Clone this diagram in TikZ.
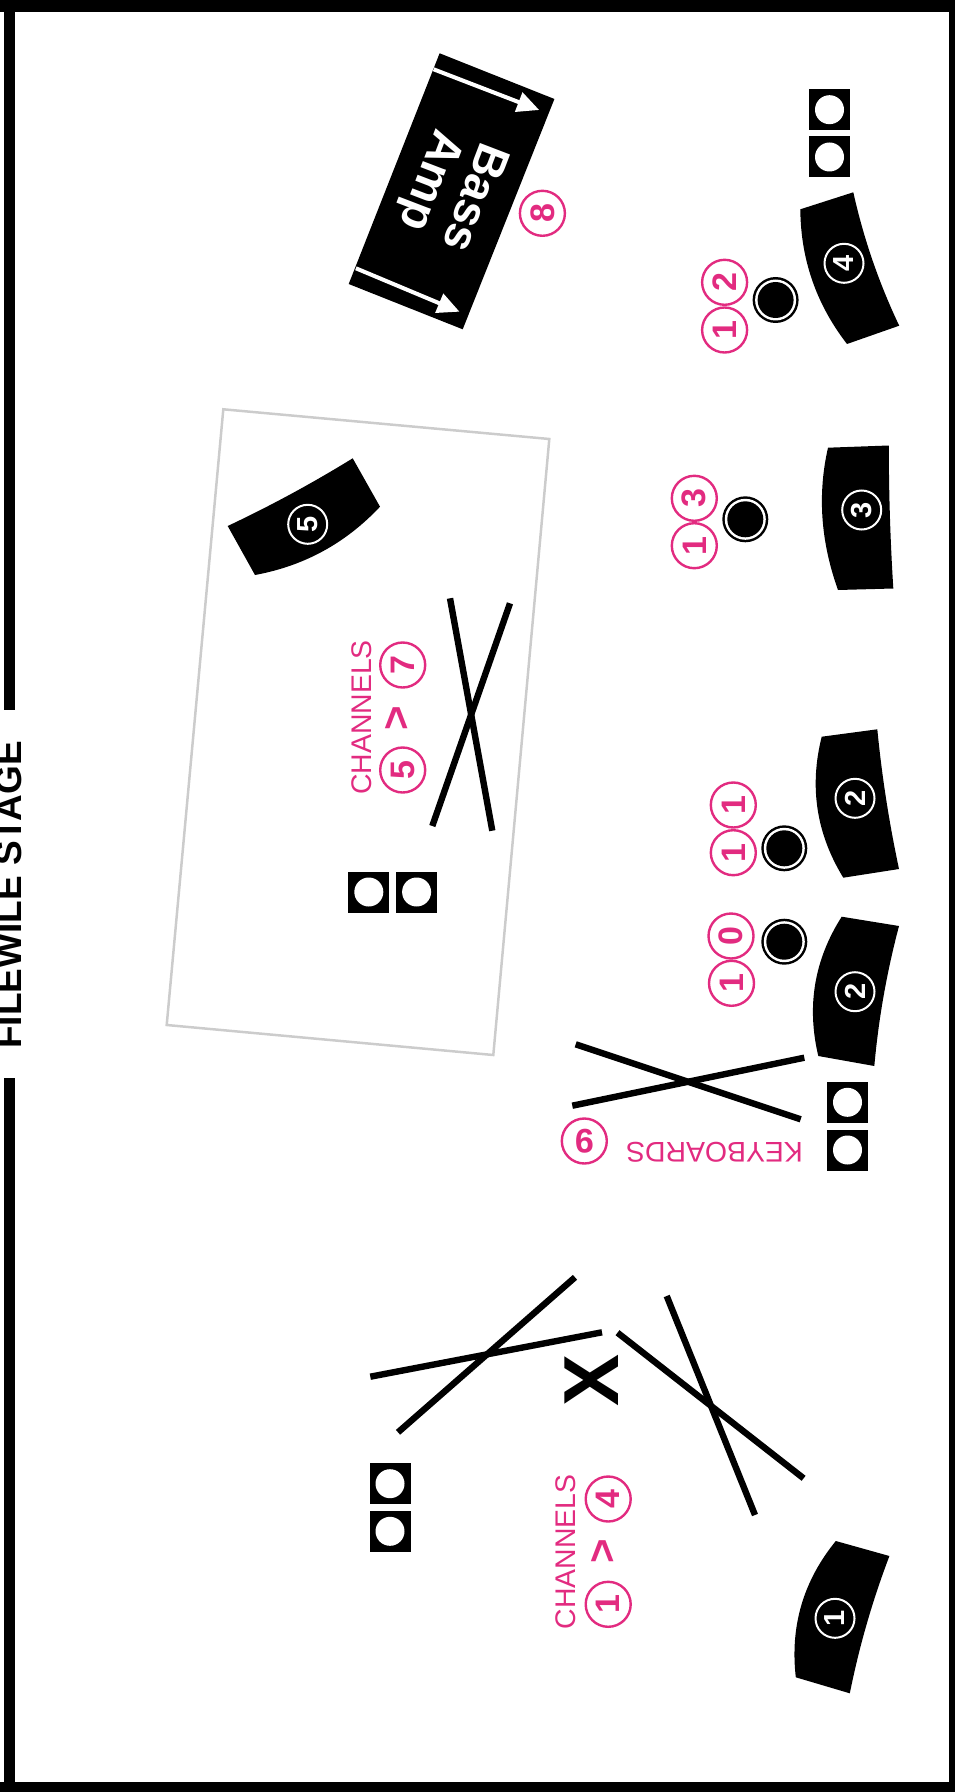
\documentclass[tikz,border=0pt]{standalone}
\usepackage{fontspec}
\setmainfont{Liberation Sans}
\usetikzlibrary{arrows.meta,calc}
\definecolor{pk}{HTML}{E22B80}
\definecolor{gr}{HTML}{CCCCCC}
\newcommand{\fs}[1]{\fontsize{#1}{#1}\selectfont}
\tikzset{
  pinkring/.style={circle,draw=pk,line width=1.2pt,minimum size=22.5pt,inner sep=0pt,text=pk,font=\fs{17}\bfseries},
  whitering/.style={circle,draw=white,line width=1pt,minimum size=19.5pt,inner sep=0pt,text=white,font=\fs{14.5}\bfseries},
  micouter/.style={circle,fill=black,minimum size=23pt,inner sep=0pt},
  micmid/.style={circle,fill=white,minimum size=20.5pt,inner sep=0pt},
  micin/.style={circle,fill=black,minimum size=18pt,inner sep=0pt},
  boxsq/.style={fill=black,minimum size=20.5pt,inner sep=0pt},
  boxhole/.style={circle,fill=white,minimum size=14.5pt,inner sep=0pt},
  cross/.style={line width=3.2pt,black},
  pinktext/.style={text=pk,font=\fs{14.2},inner sep=0pt},
  pinkarrow/.style={text=pk,font=\fs{21}\bfseries,inner sep=0pt},
  amptext/.style={text=white,font=\fs{23.5}\bfseries,inner sep=0pt,rotate=-111},
  amparrow/.style={white,line width=2pt,-{Triangle[length=11pt,width=10pt]}},
  frame/.style={fill=black},
}
\newcommand{\mic}[3]{%
  \node[micouter] (#1o) at (#2,#3) {};
  \node[micmid] (#1m) at (#1o) {};
  \node[micin] (#1i) at (#1o) {};}
\newcommand{\speaker}[3]{%
  \node[boxsq] (#1) at (#2,#3) {};
  \node[boxhole] (#1h) at (#1) {};}
% wedge: four corners, control of edge p2-p3, control of edge p4-p1
\newcommand{\wedgeshape}[6]{%
  \fill #1 -- #2 .. controls ($#2!0.667!#5$) and ($#3!0.667!#5$) .. #3
    -- #4 .. controls ($#4!0.667!#6$) and ($#1!0.667!#6$) .. #1 -- cycle;}
\begin{document}
\begin{tikzpicture}[x=0.5pt,y=-0.5pt]
\useasboundingbox (0,0) rectangle (955,1792);
\clip (0,0) rectangle (955,1792);
% frame
\fill[frame] (0,0) rectangle (955,12);
\fill[frame] (949,0) rectangle (955,1792);
\fill[frame] (0,1782) rectangle (955,1792);
\fill[frame] (4,0) rectangle (15,710);
\fill[frame] (4,1078) rectangle (15,1792);
\node[inner sep=0pt,rotate=90,font=\fs{18.5}\bfseries] (stage) at (9,895) {FILEWILE STAGE};
% grey riser
\draw[gr,line width=1.25pt] (223.3,409.3) -- (549.3,439) -- (493.3,1055) -- (166.7,1025) -- cycle;
% bass amp
\fill (439.6,53.3) -- (554.4,99) -- (462.7,329.3) -- (348.7,284) -- cycle;
\coordinate (a1s) at (433.6,69.3);
\coordinate (a1e) at (539.2,110);
\coordinate (a2s) at (355.9,268.3);
\coordinate (a2e) at (459.5,311.7);
\draw[amparrow] (a1s) -- (a1e);
\draw[amparrow] (a2s) -- (a2e);
\node[amptext] (bass) at (476.7,198.3) {Bass};
\node[amptext] (amp) at (428.8,180) {Amp};
\node[pinkring,rotate=90] (r8) at (542.4,213.3) {8};
% wedge 4
\wedgeshape{(800.3,209.3)}{(853.3,192.3)}{(899.2,325.7)}{(847,344)}{(868.7,261.5)}{(800.9,284.4)}
\node[whitering,rotate=90] (w4) at (844,263.3) {4};
\mic{m12}{775.6}{300}
\node[pinkring,rotate=90] (r12b) at (724.6,282.3) {2};
\node[pinkring,rotate=90] (r12a) at (724.6,330) {1};
\speaker{s1}{829.5}{109.7}
\speaker{s2}{829.5}{157}
% wedge 3
\wedgeshape{(828,447.7)}{(888.8,445.5)}{(893.3,588.5)}{(838,590)}{(888.8,517)}{(812,517.6)}
\node[whitering,rotate=90] (w3) at (861.7,510) {3};
\mic{m13}{745.3}{519.3}
\node[pinkring,rotate=90] (r13b) at (694.3,498.3) {3};
\node[pinkring,rotate=90] (r13a) at (694.3,545.7) {1};
% wedge 2 upper
\wedgeshape{(821.7,736.7)}{(877.3,729.3)}{(899,869)}{(843.3,877.7)}{(884.2,799.8)}{(802.8,811.7)}
\node[whitering,rotate=90] (w2a) at (855,798.3) {2};
\mic{m11}{784.3}{848.3}
\node[pinkring,rotate=90] (r11b) at (733.3,805) {1};
\node[pinkring,rotate=90] (r11a) at (733.3,852.7) {1};
% wedge 2 lower
\wedgeshape{(841.7,916.7)}{(899,926)}{(874.3,1066)}{(818.3,1056)}{(880.7,995)}{(800.5,981.3)}
\node[whitering,rotate=90] (w2b) at (855,991.7) {2};
\mic{m10}{784.3}{941.7}
\node[pinkring,rotate=90] (r10b) at (731,936) {0};
\node[pinkring,rotate=90] (r10a) at (731.5,983.3) {1};
% keyboards
\draw[cross] (575.7,1044.3) -- (800.7,1119.3);
\draw[cross] (572.3,1105.7) -- (804.3,1057.7);
\speaker{s3}{847.5}{1102.3}
\speaker{s4}{847.5}{1150}
\node[pinktext,rotate=180] (kb) at (714.5,1152.7) {KEYBOARDS};
\node[pinkring,rotate=180] (r9) at (584.3,1141) {9};
% wedge 5 and riser group
\wedgeshape{(352.7,458.3)}{(380,506.7)}{(255,575)}{(227.7,526)}{(328.7,561.4)}{(292,495.7)}
\node[whitering,rotate=90] (w5) at (307.7,524.3) {5};
\draw[cross] (450,598.3) -- (492.3,830.7);
\draw[cross] (510,603.3) -- (432.3,826);
\speaker{s5}{368.8}{892}
\speaker{s6}{416.6}{892}
\node[pinktext,rotate=90] (ch57) at (362.2,717.5) {CHANNELS};
\node[pinkring,rotate=90] (r7) at (402.7,665) {7};
\node[pinkring,rotate=90] (r5) at (402.7,770) {5};
\node[pinkarrow,rotate=90] (gt57) at (398.3,718.3) {>};
% drums
\draw[cross] (575,1277.3) -- (398,1432.3);
\draw[cross] (602,1332.3) -- (370.3,1376.7);
\draw[cross] (617.5,1332.7) -- (803.6,1478.3);
\draw[cross] (666.7,1296) -- (755,1515);
\node[inner sep=0pt,rotate=90,font=\fs{39}\bfseries] (xmark) at (592,1380) {X};
\speaker{s7}{390}{1483.7}
\speaker{s8}{390}{1531.3}
\node[pinktext,rotate=90] (ch14) at (566,1551.7) {CHANNELS};
\node[pinkring,rotate=90] (r4) at (608.2,1499) {4};
\node[pinkring,rotate=90] (r1) at (608.2,1604.3) {1};
\node[pinkarrow,rotate=90] (gt14) at (603.4,1551.7) {>};
% wedge 1
\wedgeshape{(835.8,1541)}{(889.4,1556)}{(849.8,1693.3)}{(795.8,1677.3)}{(863.9,1623)}{(787,1600.8)}
\node[whitering,rotate=90] (w1) at (835,1618.3) {1};
\end{tikzpicture}
\end{document}
